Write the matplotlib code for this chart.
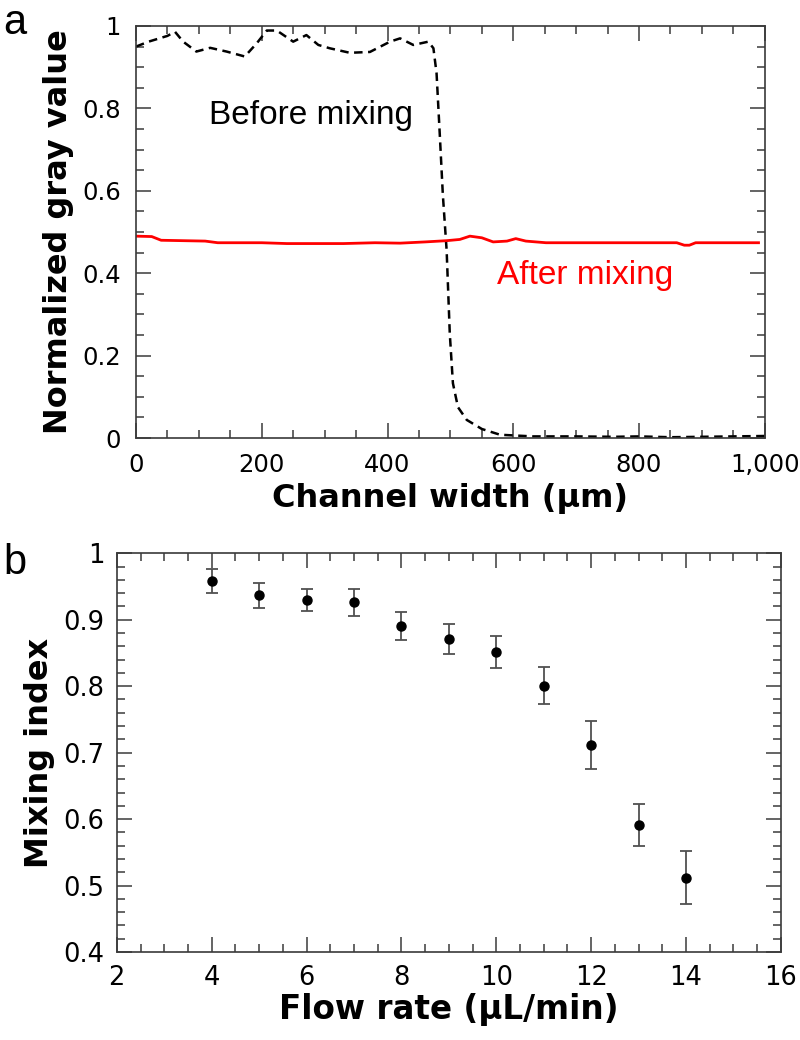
import matplotlib
matplotlib.use('Agg')
import matplotlib.pyplot as plt
from matplotlib.ticker import MultipleLocator, FuncFormatter

# panel a: gray value profiles across the channel
before_x = [0, 20, 50, 62, 75, 96, 118, 144, 173, 192, 208, 224, 250, 271, 290, 308,
            340, 372, 404, 420, 441, 465, 473, 478, 483, 488, 494, 499, 504, 512, 526,
            550, 579, 631, 700, 760, 800, 850, 900, 950, 1000]
before_y = [0.950, 0.962, 0.976, 0.986, 0.962, 0.938, 0.947, 0.938, 0.926, 0.958, 0.989,
            0.989, 0.962, 0.978, 0.954, 0.946, 0.935, 0.937, 0.962, 0.970, 0.954, 0.962,
            0.946, 0.885, 0.740, 0.590, 0.456, 0.254, 0.133, 0.075, 0.044, 0.022, 0.008,
            0.004, 0.004, 0.003, 0.004, 0.002, 0.003, 0.004, 0.005]

after_x = [0, 25, 40, 110, 130, 200, 240, 330, 380, 420, 460, 494, 515, 531, 550, 568,
           590, 604, 620, 652, 700, 860, 872, 880, 890, 990]
after_y = [0.490, 0.489, 0.480, 0.478, 0.474, 0.474, 0.472, 0.472, 0.474, 0.473, 0.476,
           0.479, 0.482, 0.490, 0.486, 0.476, 0.478, 0.484, 0.478, 0.474, 0.474, 0.474,
           0.468, 0.468, 0.474, 0.474]

# panel b: mixing index vs flow rate
flow_rate = [4, 5, 6, 7, 8, 9, 10, 11, 12, 13, 14]
mixing_index = [0.958, 0.937, 0.930, 0.926, 0.891, 0.871, 0.852, 0.801, 0.712, 0.591, 0.512]
mixing_err = [0.018, 0.019, 0.017, 0.020, 0.021, 0.022, 0.024, 0.028, 0.036, 0.031, 0.040]

spine_col = '#3a3a3a'


def style_axes(ax, lsize, pad):
    for s in ax.spines.values():
        s.set_color(spine_col)
        s.set_linewidth(1.2)
    ax.tick_params(which='both', direction='in', top=True, right=True,
                   color=spine_col, width=1.1, labelsize=lsize, pad=pad)
    ax.tick_params(which='major', length=10.5)
    ax.tick_params(which='minor', length=5.5)


def num_fmt(v, pos):
    if abs(v - round(v)) < 1e-9:
        return f'{int(round(v)):,}'
    return f'{v:.1f}'


fig = plt.figure(figsize=(8, 10.4), dpi=100)

ax1 = fig.add_axes([0.170, 0.5788, 0.786, 0.3962])
ax1.plot(before_x, before_y, color='black', lw=1.8, dashes=(3.4, 2.2))
ax1.plot(after_x, after_y, color='red', lw=2.0)
ax1.set_xlim(0, 1000)
ax1.set_ylim(0, 1)
ax1.xaxis.set_major_locator(MultipleLocator(200))
ax1.xaxis.set_minor_locator(MultipleLocator(50))
ax1.yaxis.set_major_locator(MultipleLocator(0.2))
ax1.yaxis.set_minor_locator(MultipleLocator(0.05))
ax1.xaxis.set_major_formatter(FuncFormatter(num_fmt))
ax1.yaxis.set_major_formatter(FuncFormatter(num_fmt))
style_axes(ax1, 17.5, 11)
ax1.set_xlabel('Channel width (µm)', fontsize=23, fontweight='bold', labelpad=4)
ax1.set_ylabel('Normalized gray value', fontsize=23, fontweight='bold', labelpad=6)
ax1.text(278, 0.784, 'Before mixing', fontsize=24, family='Liberation Sans',
         ha='center', va='center', color='black')
ax1.text(715, 0.395, 'After mixing', fontsize=24, family='Liberation Sans',
         ha='center', va='center', color='red')

ax2 = fig.add_axes([0.146, 0.0846, 0.830, 0.3834])
ax2.errorbar(flow_rate, mixing_index, yerr=mixing_err, fmt='none', ecolor='#505050',
             elinewidth=1.3, capsize=4.2, capthick=1.3)
ax2.plot(flow_rate, mixing_index, 'o', color='black', ms=6.5)
ax2.set_xlim(2, 16)
ax2.set_ylim(0.4, 1.0)
ax2.xaxis.set_major_locator(MultipleLocator(2))
ax2.xaxis.set_minor_locator(MultipleLocator(0.5))
ax2.yaxis.set_major_locator(MultipleLocator(0.1))
ax2.yaxis.set_minor_locator(MultipleLocator(0.02))
ax2.xaxis.set_major_formatter(FuncFormatter(num_fmt))
ax2.yaxis.set_major_formatter(FuncFormatter(num_fmt))
style_axes(ax2, 18.5, 9)
ax2.set_xlabel('Flow rate (µL/min)', fontsize=23.5, fontweight='bold', labelpad=2)
ax2.set_ylabel('Mixing index', fontsize=23, fontweight='bold', labelpad=6)

fig.text(0.004, 0.997, 'a', fontsize=30, family='Liberation Sans', ha='left', va='top')
fig.text(0.004, 0.478, 'b', fontsize=30, family='Liberation Sans', ha='left', va='top')

fig.savefig('out.png', dpi=100)
